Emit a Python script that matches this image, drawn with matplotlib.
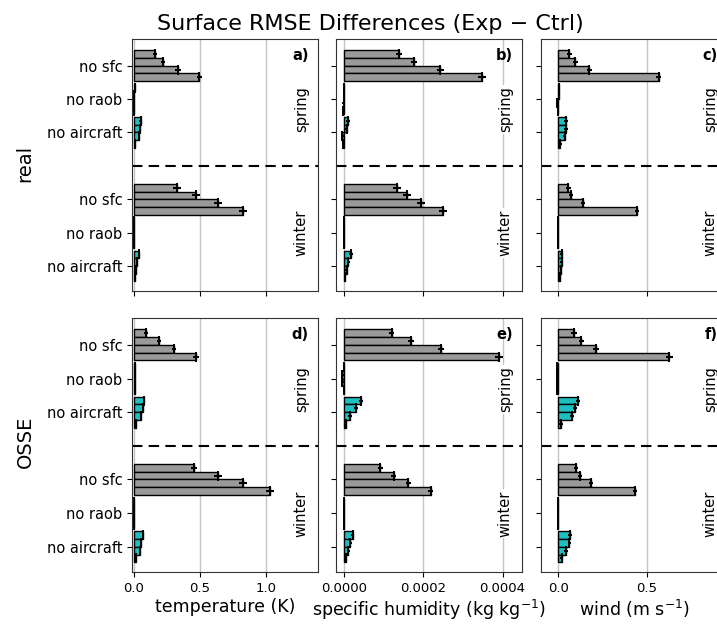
import numpy as np
import matplotlib
matplotlib.use('Agg')
import matplotlib.pyplot as plt
from matplotlib.ticker import FormatStrFormatter

groups = ['no sfc', 'no raob', 'no aircraft']
seasons = ['spring', 'winter']
rows = ['real', 'OSSE']
xlabels = ['temperature (K)', 'specific humidity (kg kg$^{-1}$)', 'wind (m s$^{-1}$)']
tags = ['a)', 'b)', 'c)', 'd)', 'e)', 'f)']

# each block: spring sfc, spring raob, spring aircraft, winter sfc, winter raob, winter aircraft
# 4 bars per group, top to bottom
temp_real = [[0.157, 0.222, 0.333, 0.495],
             [0.004, 0.002, 0.001, 0.0],
             [0.05, 0.045, 0.035, 0.01],
             [0.328, 0.47, 0.636, 0.828],
             [0.0, -0.002, -0.001, -0.002],
             [0.035, 0.025, 0.015, 0.005]]
temp_real_err = [[0.015, 0.015, 0.02, 0.02],
                 [0.004, 0.004, 0.004, 0.004],
                 [0.01, 0.01, 0.008, 0.006],
                 [0.03, 0.03, 0.03, 0.03],
                 [0.003, 0.003, 0.003, 0.003],
                 [0.008, 0.006, 0.006, 0.005]]
temp_osse = [[0.091, 0.187, 0.303, 0.47],
             [0.005, 0.005, 0.004, 0.004],
             [0.076, 0.068, 0.05, 0.018],
             [0.455, 0.636, 0.828, 1.03],
             [0.0, 0.0, -0.001, -0.001],
             [0.066, 0.056, 0.043, 0.018]]
temp_osse_err = [[0.015, 0.015, 0.015, 0.02],
                 [0.003, 0.003, 0.003, 0.003],
                 [0.01, 0.01, 0.008, 0.006],
                 [0.025, 0.03, 0.03, 0.03],
                 [0.003, 0.003, 0.003, 0.003],
                 [0.008, 0.008, 0.006, 0.005]]
q_real = [[1.395e-4, 1.77e-4, 2.43e-4, 3.49e-4],
          [0.05e-5, 0.025e-5, -0.1e-5, -0.2e-5],
          [1.1e-5, 0.7e-5, -0.4e-5, -0.2e-5],
          [1.34e-4, 1.59e-4, 1.94e-4, 2.5e-4],
          [0.0, -0.1e-5, -0.1e-5, 0.0],
          [1.8e-5, 1.1e-5, 0.7e-5, 0.25e-5]]
q_real_err = [[0.08e-4, 0.08e-4, 0.08e-4, 0.1e-4],
              [0.3e-5, 0.3e-5, 0.3e-5, 0.3e-5],
              [0.5e-5, 0.4e-5, 0.4e-5, 0.3e-5],
              [0.1e-4, 0.1e-4, 0.1e-4, 0.1e-4],
              [0.2e-5, 0.2e-5, 0.2e-5, 0.2e-5],
              [0.5e-5, 0.4e-5, 0.4e-5, 0.3e-5]]
q_osse = [[1.2e-4, 1.69e-4, 2.45e-4, 3.91e-4],
          [0.0, -0.4e-5, -0.4e-5, 0.0],
          [4.2e-5, 3.0e-5, 1.5e-5, 0.5e-5],
          [0.92e-4, 1.25e-4, 1.62e-4, 2.19e-4],
          [0.0, 0.0, 0.0, 0.0],
          [2.2e-5, 1.6e-5, 1.1e-5, 0.5e-5]]
q_osse_err = [[0.07e-4, 0.08e-4, 0.08e-4, 0.1e-4],
              [0.3e-5, 0.3e-5, 0.3e-5, 0.3e-5],
              [0.5e-5, 0.5e-5, 0.4e-5, 0.3e-5],
              [0.06e-4, 0.06e-4, 0.06e-4, 0.06e-4],
              [0.2e-5, 0.2e-5, 0.2e-5, 0.2e-5],
              [0.4e-5, 0.4e-5, 0.4e-5, 0.3e-5]]
wind_real = [[0.062, 0.096, 0.175, 0.568],
             [0.005, 0.005, -0.005, 0.0],
             [0.043, 0.043, 0.036, 0.01],
             [0.057, 0.07, 0.14, 0.443],
             [0.0, 0.0, -0.002, -0.002],
             [0.019, 0.019, 0.015, 0.01]]
wind_real_err = [[0.015, 0.015, 0.015, 0.015],
                 [0.004, 0.004, 0.004, 0.004],
                 [0.01, 0.01, 0.01, 0.008],
                 [0.012, 0.012, 0.012, 0.012],
                 [0.003, 0.003, 0.003, 0.003],
                 [0.008, 0.008, 0.008, 0.006]]
wind_osse = [[0.089, 0.13, 0.213, 0.628],
             [-0.005, -0.005, -0.005, -0.005],
             [0.113, 0.094, 0.077, 0.015],
             [0.1, 0.123, 0.185, 0.432],
             [-0.003, -0.003, -0.003, -0.003],
             [0.066, 0.062, 0.043, 0.019]]
wind_osse_err = [[0.015, 0.015, 0.015, 0.02],
                 [0.004, 0.004, 0.004, 0.004],
                 [0.012, 0.012, 0.012, 0.01],
                 [0.012, 0.012, 0.012, 0.012],
                 [0.003, 0.003, 0.003, 0.003],
                 [0.01, 0.01, 0.01, 0.008]]

data = [[temp_real, q_real, wind_real], [temp_osse, q_osse, wind_osse]]
errs = [[temp_real_err, q_real_err, wind_real_err],
        [temp_osse_err, q_osse_err, wind_osse_err]]

centers = [0, 1, 2, 4, 5, 6]
offs = np.array([-0.345, -0.115, 0.115, 0.345])
bar_h = 0.23
cols = ['#9a9a9a', '#9a9a9a', '#1fbfbf']

xlims = [(-0.015, 1.394), (-2.02e-5, 4.49e-4), (-0.098, 0.954)]
xticks = [[0.0, 0.5, 1.0], [0.0, 0.0002, 0.0004], [0.0, 0.5]]
xfmt = ['%.1f', '%.4f', '%.1f']

fig = plt.figure(figsize=(7.17, 6.33), dpi=100)
W, H = 717.0, 633.0
lefts = [132, 336, 541]
tops = [39, 318]
bots = [291, 572]

for r in range(2):
    for c in range(3):
        ax = fig.add_axes([lefts[c] / W, 1 - bots[r] / H, 186 / W, (bots[r] - tops[r]) / H])
        ax.set_axisbelow(True)
        ax.grid(axis='x', color='#c4c4c4', lw=1.0)
        vals = data[r][c]
        ee = errs[r][c]
        for g in range(6):
            y = centers[g] + offs
            ax.barh(y, vals[g], height=bar_h, color=cols[g % 3], edgecolor='k', lw=1.0)
            ax.errorbar(vals[g], y, xerr=ee[g], fmt='|', color='k', ms=7.5, mew=1.4,
                        elinewidth=1.5, capsize=0)
        ax.axhline(3, color='k', ls='--', lw=1.5, dashes=(5, 3))
        ax.set_ylim(6.75, -0.8)
        ax.set_xlim(xlims[c])
        ax.set_xticks(xticks[c])
        ax.xaxis.set_major_formatter(FormatStrFormatter(xfmt[c]))
        ax.set_yticks(centers)
        if c == 0:
            ax.set_yticklabels(groups * 2, fontsize=10.5)
        else:
            ax.set_yticklabels([])
        ax.tick_params(axis='x', labelsize=9.5)
        if r == 0:
            ax.set_xticklabels([])
        else:
            ax.set_xlabel(xlabels[c], fontsize=12.5, labelpad=2)
        for s, yy in zip(seasons, [0.72, 0.23]):
            ax.text(0.91, yy, s, transform=ax.transAxes, rotation=90, ha='center',
                    va='center', fontsize=10.5,
                    bbox=dict(facecolor='white', edgecolor='none', pad=1))
        ax.text(0.95, 0.965, tags[r * 3 + c], transform=ax.transAxes, ha='right',
                va='top', fontsize=10.5, fontweight='bold')
        for sp in ax.spines.values():
            sp.set_color('#333333')

fig.text(0.035, 0.742, rows[0], rotation=90, ha='center', va='center', fontsize=14)
fig.text(0.035, 0.3025, rows[1], rotation=90, ha='center', va='center', fontsize=14)
fig.text(0.516, 0.978, 'Surface RMSE Differences (Exp \u2212 Ctrl)', ha='center',
         va='top', fontsize=16)

fig.savefig('out.png', dpi=100)
